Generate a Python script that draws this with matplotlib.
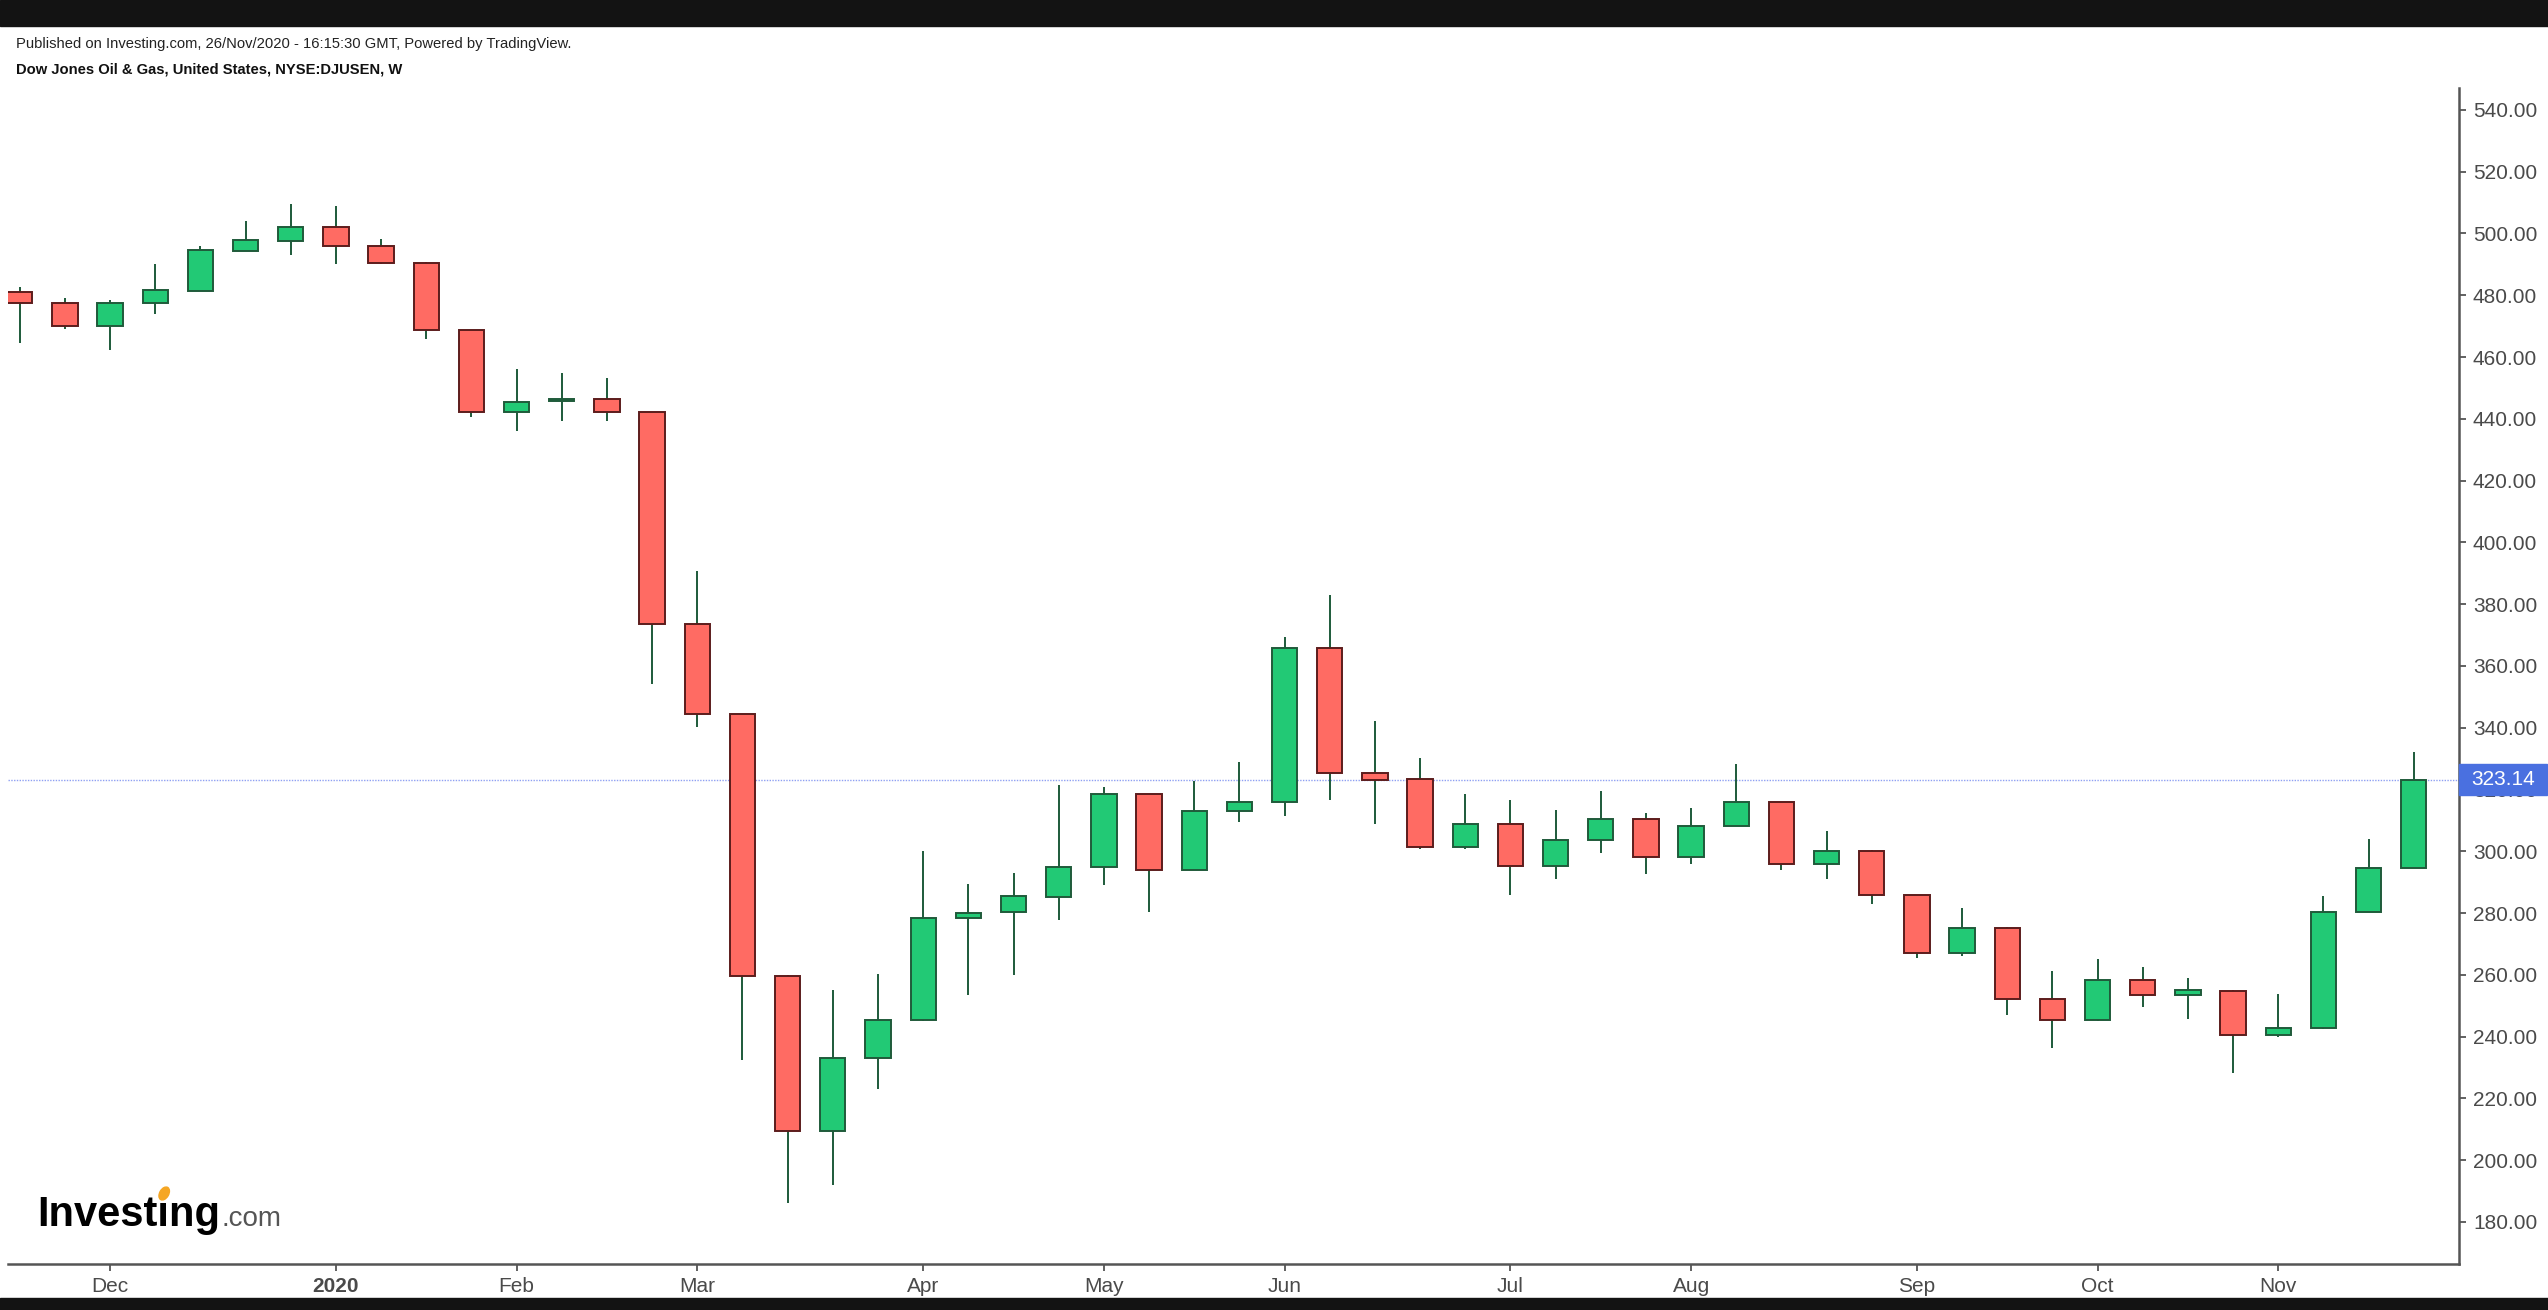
"""Weekly candlestick chart of the Dow Jones Oil & Gas index (NYSE:DJUSEN)."""

import matplotlib

matplotlib.use("Agg")
import matplotlib.pyplot as plt  # noqa: E402
import matplotlib.transforms as mtransforms  # noqa: E402
import pandas as pd  # noqa: E402
from matplotlib.patches import Ellipse, Rectangle  # noqa: E402

plt.rcParams["font.family"] = ["Liberation Sans", "DejaVu Sans"]

# weekly bars, week starting Monday 2019-11-18
weeks = pd.date_range("2019-11-18", periods=54, freq="7D")

opens = [481.0, 477.6, 470.0, 477.5, 481.5, 494.4, 497.7, 502.0, 495.9, 490.6,
         468.8, 442.3, 445.8, 446.5, 442.2, 373.6, 344.5, 259.6, 209.4, 233.1,
         245.3, 278.5, 280.4, 285.2, 294.8, 318.4, 294.0, 313.0, 315.8, 365.8,
         325.2, 323.3, 301.4, 309.0, 295.3, 303.5, 310.3, 298.1, 308.2, 315.8,
         296.0, 300.2, 285.8, 267.0, 275.3, 252.1, 245.4, 258.3, 253.6, 254.9,
         240.5, 242.7, 280.5, 294.7]
highs = [482.6, 479.2, 478.5, 490.0, 496.1, 504.2, 509.6, 508.9, 498.2, 490.7,
         468.9, 456.0, 454.7, 453.3, 442.3, 390.9, 344.6, 259.8, 255.1, 260.4,
         300.0, 289.3, 293.0, 321.5, 320.7, 318.6, 322.6, 329.0, 369.4, 383.0,
         342.3, 330.1, 318.7, 316.6, 313.3, 319.4, 312.5, 314.0, 328.2, 316.0,
         306.5, 300.3, 286.0, 281.6, 275.4, 261.3, 265.2, 262.5, 259.1, 255.0,
         253.8, 285.6, 303.9, 332.3]
lows = [464.5, 469.1, 462.4, 473.9, 481.3, 494.2, 492.9, 490.1, 490.2, 465.8,
        440.7, 436.0, 439.3, 439.3, 354.3, 340.3, 232.3, 186.0, 192.1, 223.2,
        245.2, 253.5, 260.0, 277.8, 289.1, 280.4, 293.9, 309.5, 311.4, 316.7,
        308.8, 300.7, 300.7, 285.7, 291.0, 299.3, 292.5, 296.0, 308.1, 293.9,
        291.0, 283.0, 265.4, 266.1, 247.0, 236.3, 245.2, 249.7, 245.7, 228.1,
        239.8, 242.5, 280.3, 294.5]
closes = [477.5, 470.0, 477.6, 481.7, 494.6, 498.0, 502.0, 495.8, 490.4, 468.7,
          442.2, 445.5, 446.3, 442.3, 373.6, 344.5, 259.6, 209.4, 233.1, 245.3,
          278.5, 279.9, 285.4, 294.8, 318.4, 294.0, 313.0, 315.8, 365.8, 325.2,
          323.2, 301.4, 309.0, 295.3, 303.6, 310.3, 298.1, 308.3, 315.8, 296.0,
          300.2, 285.8, 267.0, 275.3, 252.1, 245.4, 258.3, 253.4, 255.0, 240.5,
          242.7, 280.5, 294.7, 323.14]

last_price = 323.14
price_ticks = list(range(180, 541, 20))

W, H = 2548, 1310
UP, DOWN = "#22c975", "#ff6b63"
UP_EDGE, DOWN_EDGE, WICK = "#1f5a3a", "#5c1c1c", "#1d5a3a"
AXIS = "#555555"
LABEL = "#4a4a4a"

fig = plt.figure(figsize=(W / 100, H / 100), dpi=100)
fig.patch.set_facecolor("white")
ax = fig.add_axes([8 / W, 46 / H, (2459 - 8) / W, (1264 - 88) / H])

xs = list(range(len(weeks)))
bottoms = [min(o, c) for o, c in zip(opens, closes)]
heights = [max(abs(c - o), 0.5) for o, c in zip(opens, closes)]
fills = [UP if c >= o else DOWN for o, c in zip(opens, closes)]
edges = [UP_EDGE if c >= o else DOWN_EDGE for o, c in zip(opens, closes)]

ax.vlines(xs, lows, highs, color=WICK, linewidth=1.4, zorder=2)
ax.bar(xs, heights, bottom=bottoms, width=0.56, color=fills, edgecolor=edges,
       linewidth=1.4, zorder=3)

ax.axhline(last_price, color="#8fa0f2", linewidth=1.0, linestyle=(0, (1, 1)), zorder=1)

ax.set_xlim(-0.26, 54.0)
ax.set_ylim(166.4, 547.1)

# month ticks sit on the first weekly bar of each month
tick_idx = [i for i, d in enumerate(weeks) if d.day <= 7]
tick_lbl = [str(weeks[i].year) if weeks[i].month == 1 else weeks[i].strftime("%b")
            for i in tick_idx]
ax.set_xticks(tick_idx)
ax.set_xticklabels(tick_lbl)
for t, lbl in zip(ax.get_xticklabels(), tick_lbl):
    if lbl.isdigit():
        t.set_fontweight("bold")

ax.yaxis.tick_right()
ax.set_yticks(price_ticks)
ax.set_yticklabels([f"{v:.2f}" for v in price_ticks])

for side in ("left", "top"):
    ax.spines[side].set_visible(False)
for side in ("bottom", "right"):
    ax.spines[side].set_color(AXIS)
    ax.spines[side].set_linewidth(1.8)
ax.tick_params(axis="both", length=5, width=1.3, color=AXIS, labelsize=15,
               labelcolor=LABEL, pad=5)
ax.tick_params(axis="x", pad=4)

# last price tag on the price scale
trans = mtransforms.blended_transform_factory(ax.transAxes, ax.transData)
tag_w = (2547 - 2459) / 2451
ax.add_patch(Rectangle((1.0, last_price - 5.0), tag_w, 10.0, transform=trans,
                       color="#4a70e0", clip_on=False, zorder=9))
ax.text(1.0 + tag_w / 2, last_price, f"{last_price:.2f}", transform=trans,
        ha="center", va="center", fontsize=15, color="white", clip_on=False,
        zorder=10)

# header bars and captions
fig.add_artist(Rectangle((0, 1 - 26 / H), 1, 26 / H, transform=fig.transFigure,
                         color="#131313", zorder=0))
fig.add_artist(Rectangle((0, 0), 1, 12 / H, transform=fig.transFigure,
                         color="#131313", zorder=0))
fig.text(16 / W, 1 - 44 / H,
         "Published on Investing.com, 26/Nov/2020 - 16:15:30 GMT, Powered by TradingView.",
         fontsize=10.6, color="#222222", va="center")
fig.text(16 / W, 1 - 70 / H, "Dow Jones Oil & Gas, United States, NYSE:DJUSEN, W",
         fontsize=10.6, fontweight="bold", color="#111111", va="center")

# Investing.com logo
r = fig.canvas.get_renderer()
logo_x, logo_base = 37, 1226
logo_kw = dict(fontsize=30, fontweight="bold", color="black", va="baseline")
logo = fig.text(logo_x / W, 1 - logo_base / H, "Investing", **logo_kw)
bb = logo.get_window_extent(r)
fig.text((bb.x1 + 1) / W, 1 - logo_base / H, ".com", fontsize=20, color="#555555",
         va="baseline")
widths = []
for part in ("Invest", "Investi"):
    tmp = fig.text(logo_x / W, 0.5, part, **logo_kw)
    widths.append(tmp.get_window_extent(r).width)
    tmp.remove()
dot_x = logo_x + sum(widths) / 2 + 1
dot_y = H - logo_base + 0.78 * 30 * 100 / 72
fig.add_artist(Ellipse((dot_x, dot_y), 9, 14, angle=-30, transform=None,
                       color="#f5a623", zorder=5))

fig.savefig("out.png", dpi=100)
plt.close(fig)
